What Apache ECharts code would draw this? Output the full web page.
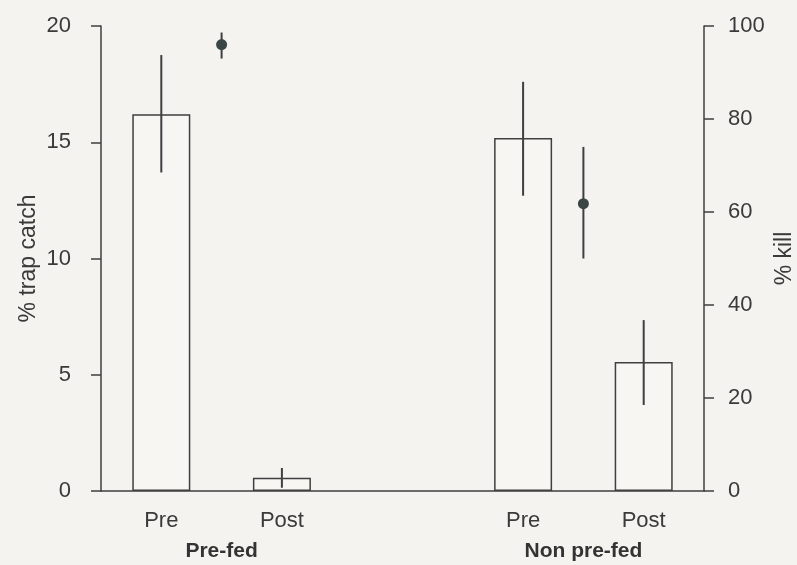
<!DOCTYPE html>
<html>
<head>
<meta charset="utf-8">
<script src="https://cdn.jsdelivr.net/npm/echarts@6/dist/echarts.min.js"></script>
<style>
  html, body { margin: 0; padding: 0; background: #f4f3ef; }
  #chart { width: 797px; height: 565px; }
</style>
</head>
<body>
<div id="chart"></div>
<script>
// categories (empty slot separates the two groups)
const categories = ['Pre', 'Post', '', 'Pre', 'Post']
const groupLabels = { 1: 'Pre-fed', 4: 'Non pre-fed' }
// % trap catch (bars) with error range
const trapCatch = [16.2, 0.57, null, 15.18, 5.55]
const trapLow = [13.7, 0.14, null, 12.7, 3.7]
const trapHigh = [18.75, 0.99, null, 17.6, 7.35]
// % kill (points, placed between Pre and Post of each group)
const killX = [1, 4]
const kill = [96.0, 61.8]
const killLow = [93.0, 50.0]
const killHigh = [98.6, 74.0]

const ink = '#3f3f3f'
const font = 'Liberation Sans, Arial, sans-serif'

let myChart = echarts.init(document.getElementById('chart'))

// 误差线
function errorBar (params, api) {
  let top = api.coord([api.value(0), api.value(2)])
  let bottom = api.coord([api.value(0), api.value(1)])
  return {
    type: 'line',
    shape: { x1: top[0], y1: top[1], x2: bottom[0], y2: bottom[1] },
    style: { stroke: ink, lineWidth: 2 }
  }
}

let trapErr = []
trapCatch.forEach((v, i) => {
  if (v !== null) trapErr.push([i, trapLow[i], trapHigh[i]])
})
let killErr = killX.map((x, i) => [x, killLow[i], killHigh[i]])

myChart.setOption({
  backgroundColor: '#f4f3ef',
  animation: false,
  grid: { left: 101, right: 93, top: 26, bottom: 74, outerBoundsMode: 'none', containLabel: false },
  xAxis: [
    {
      type: 'category',
      data: categories,
      axisLine: { lineStyle: { color: ink, width: 1.5 } },
      axisTick: { length: 10, lineStyle: { color: ink, width: 1.5 } },
      axisLabel: { color: '#3a3a3a', fontSize: 22, fontFamily: font, margin: 19 }
    },
    {
      type: 'value',
      min: 0,
      max: 5,
      interval: 1,
      position: 'bottom',
      axisLine: { show: false },
      axisTick: { show: false },
      splitLine: { show: false },
      axisLabel: {
        margin: 50,
        color: '#333',
        fontSize: 21,
        fontWeight: 'bold',
        fontFamily: font,
        formatter: v => groupLabels[v] || ''
      }
    }
  ],
  yAxis: [
    {
      type: 'value',
      min: 0,
      max: 20,
      interval: 5,
      name: '% trap catch',
      nameLocation: 'middle',
      nameGap: 61,
      nameMoveOverlap: false,
      nameTextStyle: { color: '#3a3a3a', fontSize: 23, fontFamily: font },
      axisLine: { show: true, lineStyle: { color: ink, width: 1.5 } },
      axisTick: { show: true, length: 10, lineStyle: { color: ink, width: 1.5 } },
      splitLine: { show: false },
      axisLabel: { color: '#3a3a3a', fontSize: 22, fontFamily: font, margin: 30 }
    },
    {
      type: 'value',
      min: 0,
      max: 100,
      interval: 20,
      position: 'right',
      name: '% kill',
      nameLocation: 'middle',
      nameGap: 69,
      nameMoveOverlap: false,
      nameTextStyle: { color: '#3a3a3a', fontSize: 23, fontFamily: font },
      axisLine: { show: true, lineStyle: { color: ink, width: 1.5 } },
      axisTick: { show: true, length: 10, lineStyle: { color: ink, width: 1.5 } },
      splitLine: { show: false },
      axisLabel: { color: '#3a3a3a', fontSize: 22, fontFamily: font, margin: 24 }
    }
  ],
  series: [
    {
      name: '% trap catch',
      type: 'bar',
      xAxisIndex: 0,
      yAxisIndex: 0,
      data: trapCatch,
      barWidth: 58,
      itemStyle: { color: 'rgba(255,255,255,0.25)', borderColor: ink, borderWidth: 1.5 }
    },
    {
      type: 'custom',
      xAxisIndex: 0,
      yAxisIndex: 0,
      data: trapErr,
      renderItem: errorBar,
      z: 5
    },
    {
      type: 'custom',
      xAxisIndex: 1,
      yAxisIndex: 1,
      data: killErr,
      renderItem: errorBar,
      z: 5
    },
    {
      name: '% kill',
      type: 'scatter',
      xAxisIndex: 1,
      yAxisIndex: 1,
      data: killX.map((x, i) => [x, kill[i]]),
      symbolSize: 11,
      itemStyle: { color: '#3a4644', opacity: 1 },
      z: 6
    }
  ]
})
</script>
</body>
</html>
